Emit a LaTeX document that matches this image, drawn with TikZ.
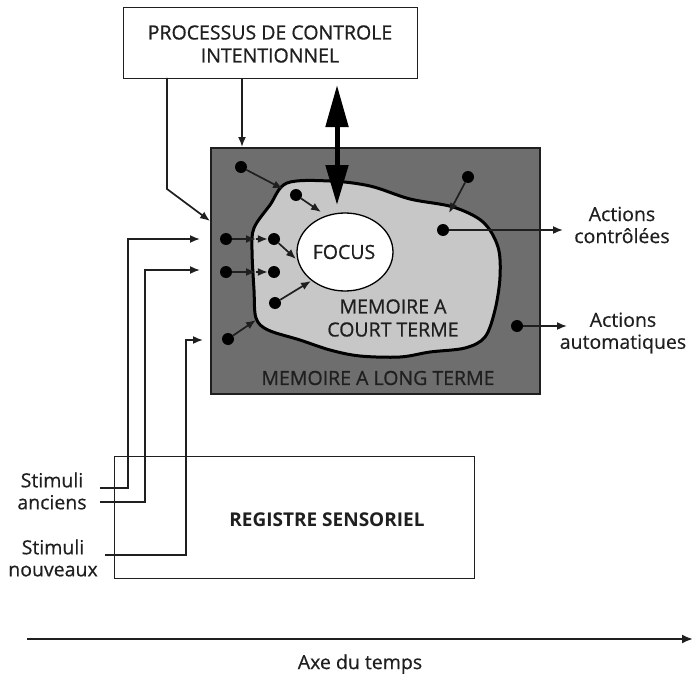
\documentclass[tikz,border=0pt]{standalone}
\usepackage{fontspec}
\setmainfont{Open Sans}
\usetikzlibrary{arrows.meta,shapes.geometric}
\definecolor{ltm}{gray}{0.43}
\definecolor{stm}{gray}{0.78}
\definecolor{ink}{gray}{0.12}
\begin{document}
\begin{tikzpicture}[x=1pt,y=-1pt,
  every node/.style={text=ink},
  bigfont/.style={font=\fontsize{19.5}{23}\selectfont\addfontfeatures{FakeBold=0.8}},
  smallfont/.style={font=\fontsize{19.5}{22}\selectfont\addfontfeatures{FakeBold=0.5}},
  box/.style={draw=ink,line width=1.4pt,fill=white,inner sep=0pt},
  dot/.style={circle,fill=black,minimum size=12pt,inner sep=0pt},
  sarrow/.style={draw=ink,line width=1.7pt,-{Latex[length=10pt,width=8pt]}},
]
\useasboundingbox (0,0) rectangle (694,677);

% top box
\node[box,minimum width=294pt,minimum height=71pt,anchor=north west] (pci) at (123,7) {};
\node[bigfont,align=center] (pcit) at (270,44) {PROCESSUS DE CONTROLE\\INTENTIONNEL};

% long-term memory box
\node[box,fill=ltm,line width=2pt,minimum width=329pt,minimum height=246pt,anchor=north west] (mlt) at (210,147) {};
% short-term memory blob
\draw[fill=stm,line width=3pt,draw=black] plot[smooth cycle,tension=0.55] coordinates {
 (287,183) (330,181) (370,186) (410,199) (453,207) (483,222) (498,247) (500,277)
 (495,310) (485,337) (465,348) (430,352) (400,357) (360,356) (330,350) (300,340)
 (268,330) (256,318) (254,290) (252,250) (254,228) (270,205)};

\node[draw=black,line width=1.3pt,fill=white,ellipse,minimum width=96pt,minimum height=78pt,inner sep=0pt] (focus) at (345,252) {};
\node[bigfont] (focust) at (344,252) {FOCUS};

\node[bigfont,align=center] (mct) at (393,318) {MEMOIRE A\\COURT TERME};
\node[bigfont] (mltt) at (378,378) {MEMOIRE A LONG TERME};

% dots
\node[dot] (d1) at (241,167) {};
\node[dot] (d2) at (296,195) {};
\node[dot] (d3) at (226,239) {};
\node[dot] (d4) at (274,239) {};
\node[dot] (d5) at (226,272) {};
\node[dot] (d6) at (274,272) {};
\node[dot] (d7) at (275,303) {};
\node[dot] (d8) at (228,339) {};
\node[dot] (d9) at (468,177) {};
\node[dot] (d10) at (443,230) {};
\node[dot] (d11) at (517,326) {};

\coordinate (b1) at (283,189);
\coordinate (f2) at (321,212);
\coordinate (b3) at (256,239);
\coordinate (b5) at (256,272);
\coordinate (f4) at (296,259);
\coordinate (f7) at (311,281);
\coordinate (b8) at (256,320);
\coordinate (b9) at (449,213);

\draw[sarrow] (d1) -- (b1);
\draw[sarrow] (d2) -- (f2);
\draw[sarrow] (d3) -- (b3);
\draw[sarrow] (b3) -- (d4);
\draw[sarrow] (d4) -- (f4);
\draw[sarrow] (d5) -- (b5);
\draw[sarrow] (b5) -- (d6);
\draw[sarrow] (d7) -- (f7);
\draw[sarrow] (d8) -- (b8);
\draw[sarrow] (d9) -- (b9);

% actions
\node[smallfont,align=center] (actc) at (622,225) {Actions\\contrôlées};
\node[smallfont,align=center] (acta) at (623,333) {Actions\\automatiques};
\coordinate (ac) at (563,230);
\coordinate (aa) at (567,326);
\draw[sarrow] (d10) -- (ac);
\draw[sarrow] (d11) -- (aa);

% control arrows
\coordinate (c1a) at (167,78);
\coordinate (c1b) at (167,189);
\coordinate (c1c) at (210,221);
\draw[sarrow] (c1a) -- (c1b) -- (c1c);
\coordinate (c2a) at (242,78);
\coordinate (c2b) at (242,147);
\draw[sarrow] (c2a) -- (c2b);

% big double arrow
\coordinate (ba) at (337,85);
\coordinate (bb) at (337,205);
\draw[line width=5pt,draw=black,{Triangle[length=42pt,width=22pt]}-{Triangle[length=40pt,width=22pt]}] (ba) -- (bb);

% registre sensoriel
\node[box,line width=1.3pt,minimum width=360pt,minimum height=122pt,anchor=north west,fill=none] (reg) at (114,456) {};
\node[font=\fontsize{19}{23}\selectfont\bfseries] (regt) at (327,520) {REGISTRE SENSORIEL};

% stimuli
\node[smallfont,align=center] (sa) at (52,491) {Stimuli\\anciens};
\node[smallfont,align=center] (sn) at (53,558) {Stimuli\\nouveaux};
\coordinate (s1a) at (100,488);
\coordinate (s1b) at (128,488);
\coordinate (s1c) at (128,239);
\coordinate (s1d) at (200,239);
\coordinate (s2a) at (100,502);
\coordinate (s2b) at (145,502);
\coordinate (s2c) at (145,270);
\coordinate (s2d) at (200,270);
\coordinate (s3a) at (105,555);
\coordinate (s3b) at (186,555);
\coordinate (s3c) at (186,340);
\coordinate (s3d) at (203,340);
\draw[sarrow] (s1a) -- (s1b) -- (s1c) -- (s1d);
\draw[sarrow] (s2a) -- (s2b) -- (s2c) -- (s2d);
\draw[sarrow] (s3a) -- (s3b) -- (s3c) -- (s3d);

% time axis
\coordinate (ta) at (27,639);
\coordinate (tb) at (693,639);
\draw[line width=2pt,draw=ink,-{Latex[length=11pt,width=9pt]}] (ta) -- (tb);
\node[smallfont] (tt) at (360,664) {Axe du temps};
\end{tikzpicture}
\end{document}
